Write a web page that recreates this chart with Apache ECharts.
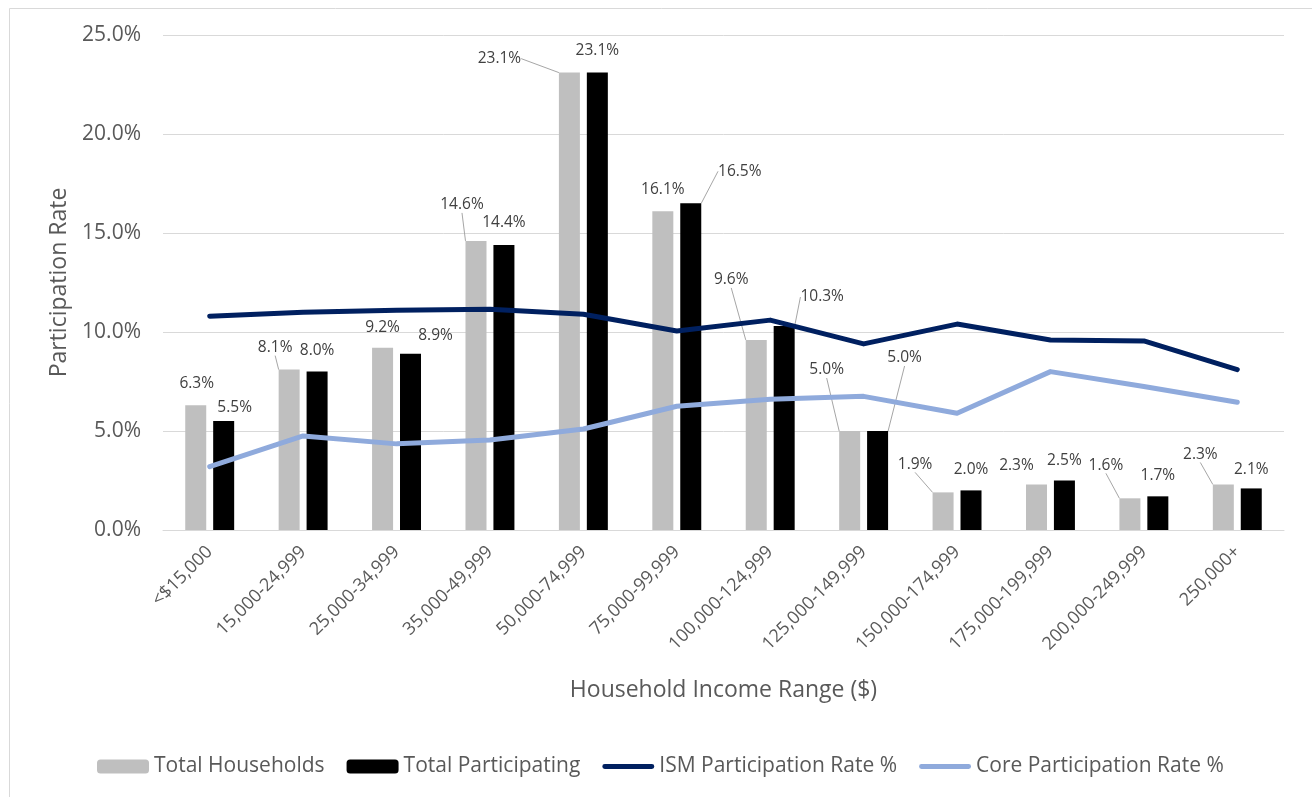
<!DOCTYPE html>
<html>
<head>
<meta charset="utf-8">
<script src="https://cdn.jsdelivr.net/npm/echarts@6/dist/echarts.min.js"></script>
<style>
  html, body { margin: 0; padding: 0; background: #fff; }
  #chart { width: 1312px; height: 797px; }
</style>
</head>
<body>
<div id="chart"></div>
<script>
// chart data (percent)
var incomeRanges = ['<$15,000', '15,000-24,999', '25,000-34,999', '35,000-49,999', '50,000-74,999',
  '75,000-99,999', '100,000-124,999', '125,000-149,999', '150,000-174,999', '175,000-199,999',
  '200,000-249,999', '250,000+']
var totalHouseholds = [6.3, 8.1, 9.2, 14.6, 23.1, 16.1, 9.6, 5.0, 1.9, 2.3, 1.6, 2.3]
var totalParticipating = [5.5, 8.0, 8.9, 14.4, 23.1, 16.5, 10.3, 5.0, 2.0, 2.5, 1.7, 2.1]
var ismRate = [10.8, 11.0, 11.1, 11.15, 10.9, 10.05, 10.6, 9.4, 10.4, 9.6, 9.55, 8.1]
var coreRate = [3.2, 4.75, 4.35, 4.55, 5.1, 6.25, 6.6, 6.75, 5.9, 8.0, 7.25, 6.45]
var yTicks = [0, 5, 10, 15, 20, 25]

// where the data labels were dragged to in the original (dx, dy from the default spot)
var hhLabelShift = [[1, -9], [-14, -9], [0, -7], [-14, -23], [-70, -1], [0, -9],
  [-25, -47], [-23, -48], [-28, -15], [-20, -6], [-24, -20], [-23, -17]]
var partLabelShift = [[11, -1], [0, -8], [25, -5], [0, -9], [0, -9], [49, -19],
  [38, -16], [27, -60], [0, -8], [0, -7], [0, -8], [0, -6]]
var hhLeaders = [1, 3, 4, 6, 7, 8, 10, 11]
var partLeaders = [5, 6, 7]

var font = '"Open Sans", "Noto Sans", sans-serif'
var lineIcon = 'path://M2,0 L50,0 A2.5,2.5 0 0 1 50,5 L2,5 A2.5,2.5 0 0 1 2,0 Z'

function barData (values, leaders) {
  return values.map(function (v, i) {
    return { value: v, labelLine: { show: leaders.indexOf(i) >= 0 } }
  })
}

function barSeries (name, values, color, shift, leaders) {
  return {
    name: name,
    type: 'bar',
    barWidth: 21,
    barGap: '33%',
    itemStyle: { color: color },
    label: {
      show: true,
      position: 'top',
      distance: 5,
      fontFamily: font,
      fontSize: 15.5,
      color: '#404040',
      formatter: function (p) { return p.value.toFixed(1) + '%' }
    },
    labelLayout: function (params) {
      var s = shift[params.dataIndex]
      return { dx: s[0], dy: s[1] }
    },
    labelLine: {
      show: true,
      length2: 0,
      lineStyle: { color: '#a6a6a6', width: 1 }
    },
    data: barData(values, leaders)
  }
}

function lineSeries (name, values, color) {
  return {
    name: name,
    type: 'line',
    symbol: 'none',
    z: 3,
    lineStyle: { color: color, width: 5, cap: 'round', join: 'round' },
    itemStyle: { color: color },
    data: values
  }
}

var myChart = echarts.init(document.getElementById('chart'))
myChart.setOption({
  animation: false,
  backgroundColor: '#fff',
  textStyle: { fontFamily: font },
  graphic: [{
    type: 'rect',
    left: 7,
    top: 6,
    shape: { width: 1330, height: 820 },
    style: { fill: 'none', stroke: '#d9d9d9', lineWidth: 1 },
    silent: true
  }],
  grid: { left: 163, right: 28, top: 35, bottom: 267, containLabel: false },
  legend: {
    left: 92,
    top: 751,
    itemWidth: 52,
    itemHeight: 14,
    itemGap: 22,
    selectedMode: false,
    textStyle: { fontFamily: font, fontSize: 21, color: '#595959' },
    data: [
      { name: 'Total Households' },
      { name: 'Total Participating' },
      { name: 'ISM Participation Rate %', icon: lineIcon },
      { name: 'Core Participation Rate %', icon: lineIcon }
    ]
  },
  xAxis: {
    type: 'category',
    data: incomeRanges,
    name: 'Household Income Range ($)',
    nameLocation: 'middle',
    nameGap: 149,
    nameTextStyle: { fontFamily: font, fontSize: 23, color: '#595959' },
    axisTick: { show: false },
    axisLine: { lineStyle: { color: '#d9d9d9', width: 1 } },
    axisLabel: {
      interval: 0,
      rotate: 45,
      margin: 19,
      fontFamily: font,
      fontSize: 18,
      color: '#595959'
    }
  },
  yAxis: {
    type: 'value',
    min: yTicks[0],
    max: yTicks[yTicks.length - 1],
    interval: yTicks[1] - yTicks[0],
    name: 'Participation Rate',
    nameLocation: 'middle',
    nameGap: 88,
    nameTextStyle: { fontFamily: font, fontSize: 23, color: '#595959' },
    axisLine: { show: false },
    axisTick: { show: false },
    axisLabel: {
      margin: 22,
      fontFamily: font,
      fontSize: 21,
      color: '#595959',
      formatter: function (v) { return v.toFixed(1) + '%' }
    },
    splitLine: { lineStyle: { color: '#d9d9d9', width: 1 } }
  },
  series: [
    barSeries('Total Households', totalHouseholds, '#bfbfbf', hhLabelShift, hhLeaders),
    barSeries('Total Participating', totalParticipating, '#000000', partLabelShift, partLeaders),
    lineSeries('ISM Participation Rate %', ismRate, '#002060'),
    lineSeries('Core Participation Rate %', coreRate, '#8faadc')
  ]
})
</script>
</body>
</html>
